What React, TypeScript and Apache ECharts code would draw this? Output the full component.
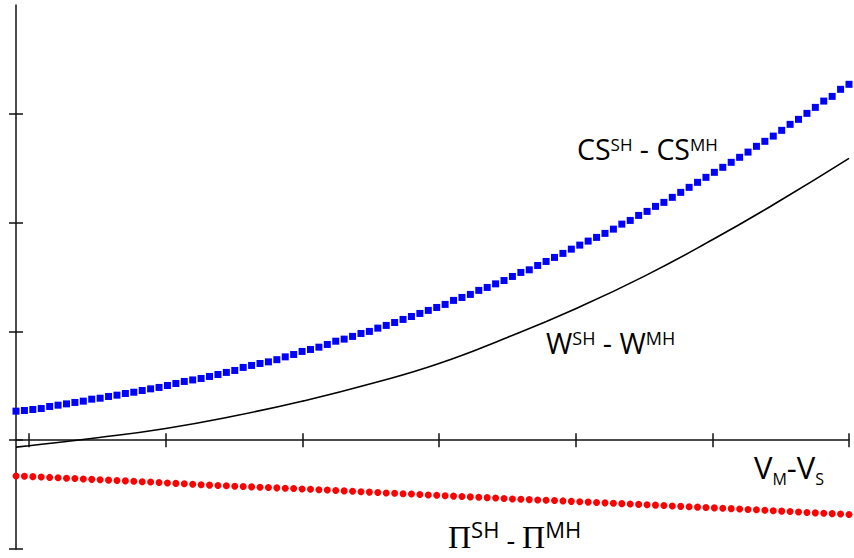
import React, { useEffect, useRef } from 'react';
import * as echarts from 'echarts';

// Axis geometry (no tick labels in the original)
const X_MIN = -0.095;
const X_MAX = 6;
const Y_MIN = -1;
const Y_MAX = 4;
const X_TICKS = [0, 1, 2, 3, 4, 5, 6];
const Y_TICKS = [-1, 0, 1, 2, 3];

// CS^SH - CS^MH (blue squares), 100 evenly spaced samples from X_MIN to X_MAX
const CS_DIFF = [
  0.267, 0.273, 0.282, 0.291, 0.310, 0.322, 0.334, 0.347, 0.359, 0.377,
  0.386, 0.402, 0.414, 0.429, 0.441, 0.457, 0.472, 0.485, 0.503, 0.521,
  0.540, 0.554, 0.567, 0.586, 0.604, 0.623, 0.641, 0.669, 0.687, 0.705,
  0.720, 0.740, 0.766, 0.788, 0.816, 0.834, 0.855, 0.880, 0.910, 0.929,
  0.954, 0.981, 1.000, 1.030, 1.055, 1.082, 1.110, 1.137, 1.165, 1.193,
  1.220, 1.248, 1.285, 1.312, 1.340, 1.377, 1.404, 1.437, 1.468, 1.505,
  1.542, 1.566, 1.606, 1.643, 1.680, 1.717, 1.756, 1.793, 1.830, 1.864,
  1.901, 1.940, 1.986, 2.020, 2.066, 2.103, 2.149, 2.186, 2.232, 2.278,
  2.324, 2.370, 2.416, 2.462, 2.508, 2.554, 2.600, 2.648, 2.701, 2.747,
  2.795, 2.848, 2.903, 2.949, 3.004, 3.059, 3.117, 3.160, 3.225, 3.271,
];

// Π^SH - Π^MH (red dots), same 100 sample positions
const PROFIT_DIFF = [
  -0.329, -0.332, -0.335, -0.338, -0.342, -0.345, -0.349, -0.352, -0.356, -0.360,
  -0.363, -0.367, -0.370, -0.374, -0.378, -0.382, -0.385, -0.389, -0.393, -0.397,
  -0.401, -0.405, -0.409, -0.413, -0.416, -0.419, -0.423, -0.426, -0.429, -0.432,
  -0.435, -0.438, -0.441, -0.444, -0.448, -0.451, -0.455, -0.458, -0.462, -0.466,
  -0.470, -0.473, -0.477, -0.481, -0.485, -0.488, -0.492, -0.495, -0.499, -0.503,
  -0.506, -0.510, -0.514, -0.517, -0.521, -0.525, -0.528, -0.532, -0.536, -0.540,
  -0.543, -0.546, -0.549, -0.552, -0.555, -0.558, -0.562, -0.565, -0.569, -0.572,
  -0.576, -0.579, -0.583, -0.587, -0.590, -0.594, -0.597, -0.601, -0.604, -0.608,
  -0.611, -0.615, -0.618, -0.622, -0.625, -0.629, -0.633, -0.637, -0.640, -0.644,
  -0.648, -0.652, -0.656, -0.660, -0.664, -0.668, -0.672, -0.675, -0.679, -0.683,
];

// W^SH - W^MH (black line)
const W_X = [-0.095, 0, 0.5, 1, 1.5, 2, 2.5, 3, 3.5, 4, 4.5, 5, 5.5, 6];
const W_DIFF = [-0.064, -0.051, 0.022, 0.108, 0.222, 0.359, 0.519, 0.705, 0.945, 1.209, 1.506, 1.842, 2.205, 2.59];

const SANS = '"Open Sans", "Noto Sans", sans-serif';
const SERIF = '"Liberation Serif", "DejaVu Serif", serif';

export default function App() {
  const ref = useRef<HTMLDivElement>(null);

  useEffect(() => {
    document.body.style.margin = '0';
    const chart = echarts.init(ref.current!, null, { renderer: 'svg' });
    const step = (X_MAX - X_MIN) / (CS_DIFF.length - 1);
    const csData = CS_DIFF.map((v, i) => [X_MIN + i * step, v]);
    const profitData = PROFIT_DIFF.map((v, i) => [X_MIN + i * step, v]);
    const wData = W_X.map((x, i) => [x, W_DIFF[i]]);

    const axisColor = '#111';
    const mkX = (inside: boolean, showLine: boolean) => ({
      type: 'value',
      min: X_MIN,
      max: X_MAX,
      position: 'bottom',
      axisLine: { show: showLine, onZero: true, onZeroAxisIndex: 0, lineStyle: { color: axisColor, width: 1.5 } },
      axisTick: { show: true, inside, length: 7, customValues: X_TICKS, lineStyle: { color: axisColor, width: 1.5 } },
      axisLabel: { show: false },
      splitLine: { show: false },
    });
    const mkY = (inside: boolean, showLine: boolean) => ({
      type: 'value',
      min: Y_MIN,
      max: Y_MAX,
      position: 'left',
      axisLine: { show: showLine, onZero: false, lineStyle: { color: axisColor, width: 1.5 } },
      axisTick: { show: true, inside, length: 7, customValues: Y_TICKS, lineStyle: { color: axisColor, width: 1.5 } },
      axisLabel: { show: false },
      splitLine: { show: false },
    });

    const main = (size: number, family = SANS, pad = 0, lh = 32) => ({
      fontFamily: family,
      fontSize: size,
      lineHeight: lh,
      verticalAlign: 'bottom',
      color: '#111',
      padding: [0, 0, pad, 0],
    });

    chart.setOption({
      animation: false,
      backgroundColor: '#fff',
      grid: { left: 16, right: 5, top: 5, bottom: 9, containLabel: false },
      xAxis: [mkX(false, true), mkX(true, false)],
      yAxis: [mkY(false, true), mkY(true, false)],
      series: [
        {
          type: 'line',
          data: wData,
          smooth: true,
          symbol: 'none',
          lineStyle: { color: '#000', width: 1.6 },
          z: 3,
        },
        {
          type: 'scatter',
          data: csData,
          symbol: 'rect',
          symbolSize: 7,
          itemStyle: { color: '#0000ff', opacity: 1 },
          z: 4,
        },
        {
          type: 'scatter',
          data: profitData,
          symbol: 'circle',
          symbolSize: 7,
          itemStyle: { color: '#ff0000', opacity: 1 },
          z: 4,
        },
      ],
      graphic: [
        {
          type: 'text',
          x: 577,
          y: 131,
          style: {
            text: '{m|CS}{s|SH}{m| - CS}{s|MH}',
            verticalAlign: 'top',
            rich: { m: main(28.5), s: main(17, SANS, 10) },
          },
        },
        {
          type: 'text',
          x: 546,
          y: 325,
          style: {
            text: '{m|W}{s|SH}{m| - W}{s|MH}',
            verticalAlign: 'top',
            rich: { m: main(28.5), s: main(18, SANS, 10) },
          },
        },
        {
          type: 'text',
          x: 448,
          y: 527,
          style: {
            text: '{p|Π}{s|SH}{m| - }{p|Π}{s|MH}',
            verticalAlign: 'top',
            rich: {
              p: main(32, SERIF, 0, 26),
              m: main(27, SANS, 0, 26),
              s: main(22, SANS, 13.5, 26),
            },
          },
        },
        {
          type: 'text',
          x: 754,
          y: 451,
          style: {
            text: '{m|V}{b|M}{m|-V}{b|S}',
            verticalAlign: 'top',
            rich: {
              m: main(31, SANS, 4.2, 36),
              b: main(16, SANS, 0, 36),
            },
          },
        },
      ],
    });
    return () => chart.dispose();
  }, []);

  return <div ref={ref} style={{ width: 854, height: 558 }} />;
}
